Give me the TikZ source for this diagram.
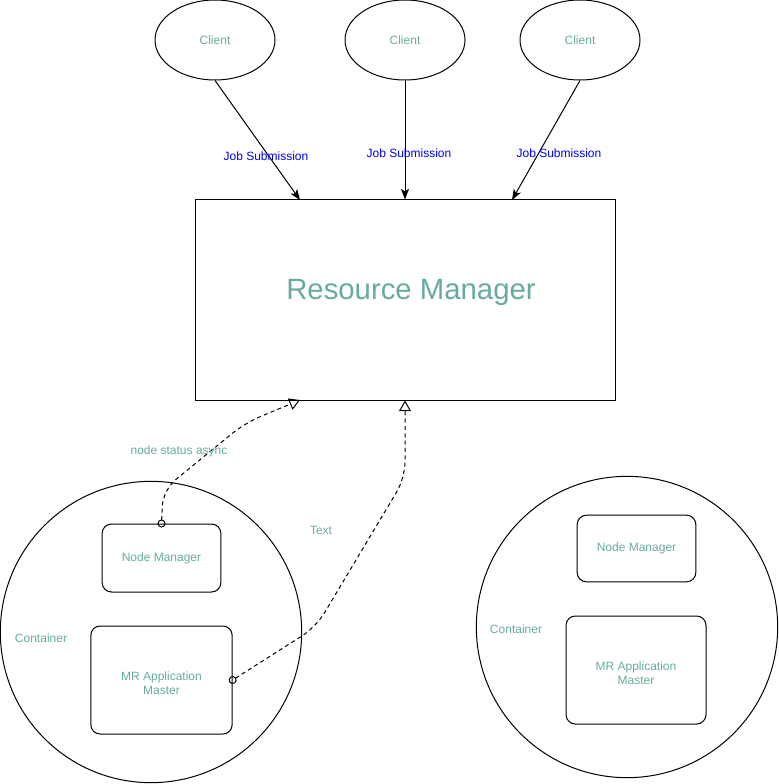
\documentclass[tikz,border=0pt]{standalone}
\usepackage{fontspec}
\setmainfont{Liberation Sans}
\usetikzlibrary{shapes.geometric, arrows.meta}
\definecolor{drawteal}{RGB}{103,171,159}
\definecolor{drawblue}{RGB}{0,0,255}

\begin{document}
\begin{tikzpicture}[
    x=0.75pt, y=-0.75pt,
    line width=0.75pt,
    client/.style={ellipse, draw, minimum width=90pt, minimum height=60pt, inner sep=0pt, font=\fontsize{9}{11}\selectfont, text=drawteal},
    container/.style={circle, draw, minimum size=226pt, inner sep=0pt},
    box/.style={rectangle, draw, rounded corners=7pt, inner sep=0pt, align=center, font=\fontsize{9}{10.5}\selectfont, text=drawteal},
    boxtext/.style={align=center, inner sep=0pt, font=\fontsize{9}{10.5}\selectfont, text=drawteal},
    label/.style={font=\fontsize{9}{11}\selectfont, text=drawteal},
    joblabel/.style={font=\fontsize{9}{11}\selectfont, text=drawblue},
    arrow/.style={-{Stealth[length=8pt, width=6pt, inset=2pt]}},
    async/.style={dashed, dash pattern=on 3pt off 2.5pt, rounded corners=12pt, shorten <=-3pt, {Circle[open, length=6pt]}-{Triangle[open, length=8pt, width=9pt]}}
]
    \useasboundingbox (0,0) rectangle (778,784);

    % Clients
    \node[client] (client1) at (215,40) {Client};
    \node[client] (client2) at (405,40) {Client};
    \node[client] (client3) at (580,40) {Client};

    % Resource manager
    \node[rectangle, draw, minimum width=315pt, minimum height=150pt, inner sep=0pt] (rm) at (405,300) {};
    \node[font=\fontsize{22}{26}\selectfont, text=drawteal] (rmlabel) at (411,292) {Resource Manager};
    \coordinate (in1) at (300,200);
    \coordinate (in3) at (512,200);
    \coordinate (back1) at (300,400);

    % Containers
    \node[container] (cont1) at (151,632) {};
    \node[container] (cont2) at (627,627) {};
    \node[label] (contlabel1) at (41,638) {Container};
    \node[label] (contlabel2) at (516,629) {Container};

    \node[box, minimum width=89pt, minimum height=51pt] (nm1) at (161.5,558) {Node Manager};
    \node[box, minimum width=106pt, minimum height=81pt] (am1) at (161.5,680) {};
    \node[boxtext] (amtext1) at (161.5,683) {MR Application\\Master};
    \node[box, minimum width=89pt, minimum height=50pt] (nm2) at (636.5,548.5) {Node Manager};
    \node[box, minimum width=105pt, minimum height=81pt] (am2) at (636,670) {};
    \node[boxtext] (amtext2) at (636,673) {MR Application\\Master};

    % Job submission
    \draw[arrow] (client1.south) -- (in1);
    \draw[arrow] (client2.south) -- (rm.north);
    \draw[arrow] (client3.south) -- (in3);
    \node[joblabel] at (266,156) {Job Submission};
    \node[joblabel] at (409,153) {Job Submission};
    \node[joblabel] at (559,153) {Job Submission};

    % Status back to the resource manager
    \draw[async] (nm1.north) -- (163,490) -- (245,423) -- (back1);
    \draw[async] (am1.east) -- (316,627) -- (405,478) -- (rm.south);
    \node[label] at (179,451) {node status async};
    \node[label] at (321,530) {Text};
\end{tikzpicture}
\end{document}
